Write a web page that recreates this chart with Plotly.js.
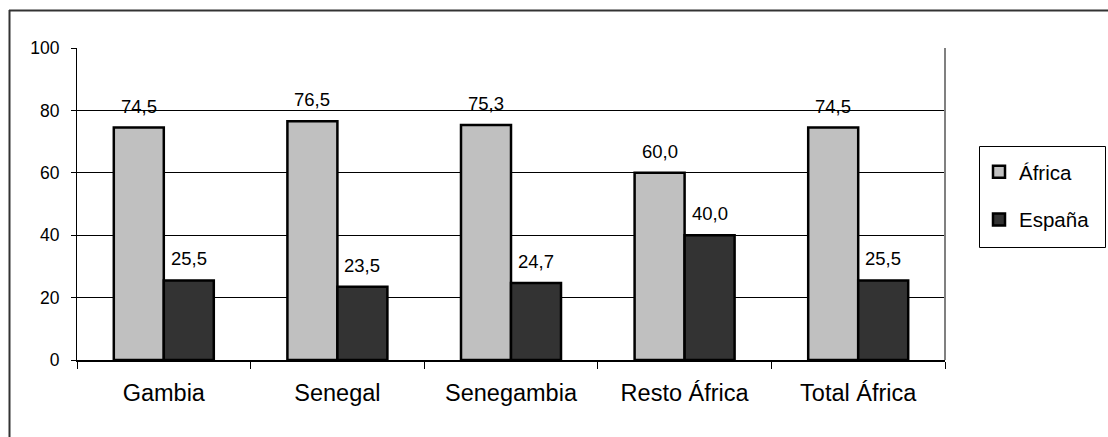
<!DOCTYPE html>
<html>
<head>
<meta charset="utf-8">
<script src="https://cdn.plot.ly/plotly-3.0.1.min.js"></script>
<style>
html,body{margin:0;padding:0;background:#fff;}
#chart{width:1108px;height:437px;}
</style>
</head>
<body>
<div id="chart"></div>
<script>
const categories = ["Gambia", "Senegal", "Senegambia", "Resto África", "Total África"];
const africa = [74.5, 76.5, 75.3, 60.0, 74.5];
const espana = [25.5, 23.5, 24.7, 40.0, 25.5];
const seriesNames = ["África", "España"];
const yTicks = [0, 20, 40, 60, 80, 100];

const W = 1108, H = 437;
const margin = {l: 77, r: 163, t: 48, b: 77};
const bargap = 0.424;
const plotW = W - margin.l - margin.r;
const plotH = H - margin.t - margin.b;
const barW = plotW / categories.length * (1 - bargap) / 2;

const font = "Liberation Sans, Arial, sans-serif";
const fmt = v => v.toFixed(1).replace(".", ",");

const traces = [
  {type: "bar", name: seriesNames[0], legendgroup: "a", x: categories, y: africa,
   marker: {color: "#c0c0c0", line: {color: "#000", width: 2.5}}, hoverinfo: "skip"},
  {type: "bar", name: seriesNames[1], legendgroup: "b", x: categories, y: espana,
   marker: {color: "#333333", line: {color: "#000", width: 2.5}}, hoverinfo: "skip"}
];

const annotations = [];
[africa, espana].forEach((arr, si) => {
  arr.forEach((v, i) => {
    annotations.push({
      xref: "x", yref: "y", x: categories[i], y: v,
      xshift: (si === 0 ? -1 : 1) * barW / 2, yshift: 9,
      yanchor: "bottom", xanchor: "center", showarrow: false,
      text: fmt(v), font: {family: font, size: 18.5, color: "#000"}
    });
  });
});

const px = x => (x - margin.l) / plotW;
const py = y => (H - margin.b - y) / plotH;

const layout = {
  width: W, height: H,
  margin: margin,
  paper_bgcolor: "#fff", plot_bgcolor: "#fff",
  font: {family: font, color: "#000"},
  barmode: "group", bargap: bargap, bargroupgap: 0,
  showlegend: true,
  legend: {
    x: px(979), y: py(152), xanchor: "left", yanchor: "top",
    borderwidth: 0, bgcolor: "rgba(0,0,0,0)",
    font: {family: font, size: 20.5, color: "#000"},
    tracegroupgap: 18, traceorder: "grouped", itemwidth: 30
  },
  xaxis: {
    type: "category", tickson: "boundaries",
    ticks: "outside", ticklen: 7, tickcolor: "#000", tickwidth: 1,
    showline: true, linecolor: "#000", linewidth: 1.5,
    showgrid: false, zeroline: false,
    tickfont: {family: font, size: 23.5, color: "#000"},
    ticklabelstandoff: 11, fixedrange: true
  },
  yaxis: {
    range: [0, 100], tickvals: yTicks, ticktext: yTicks.map(String),
    ticks: "outside", ticklen: 5, tickcolor: "#000", tickwidth: 1,
    showline: true, linecolor: "#000", linewidth: 1,
    showgrid: true, gridcolor: "#000", gridwidth: 1,
    zeroline: false,
    tickfont: {family: font, size: 17.5, color: "#000"},
    ticklabelstandoff: 8, fixedrange: true
  },
  annotations: annotations,
  shapes: [
    {type: "line", xref: "paper", yref: "paper", x0: 1, x1: 1, y0: 0, y1: 1,
     line: {color: "#808080", width: 2}},
    {type: "line", xref: "paper", yref: "paper", x0: px(9), x1: px(1120), y0: py(10.5), y1: py(10.5),
     line: {color: "#333", width: 2}},
    {type: "line", xref: "paper", yref: "paper", x0: px(9.5), x1: px(9.5), y0: py(10), y1: py(450),
     line: {color: "#333", width: 2}},
    {type: "rect", xref: "paper", yref: "paper", x0: px(979.5), x1: px(1105.5), y0: py(146.5), y1: py(247.5),
     line: {color: "#000", width: 1}, layer: "below"}
  ]
};

Plotly.newPlot("chart", traces, layout, {displayModeBar: false, staticPlot: true});
</script>
</body>
</html>
